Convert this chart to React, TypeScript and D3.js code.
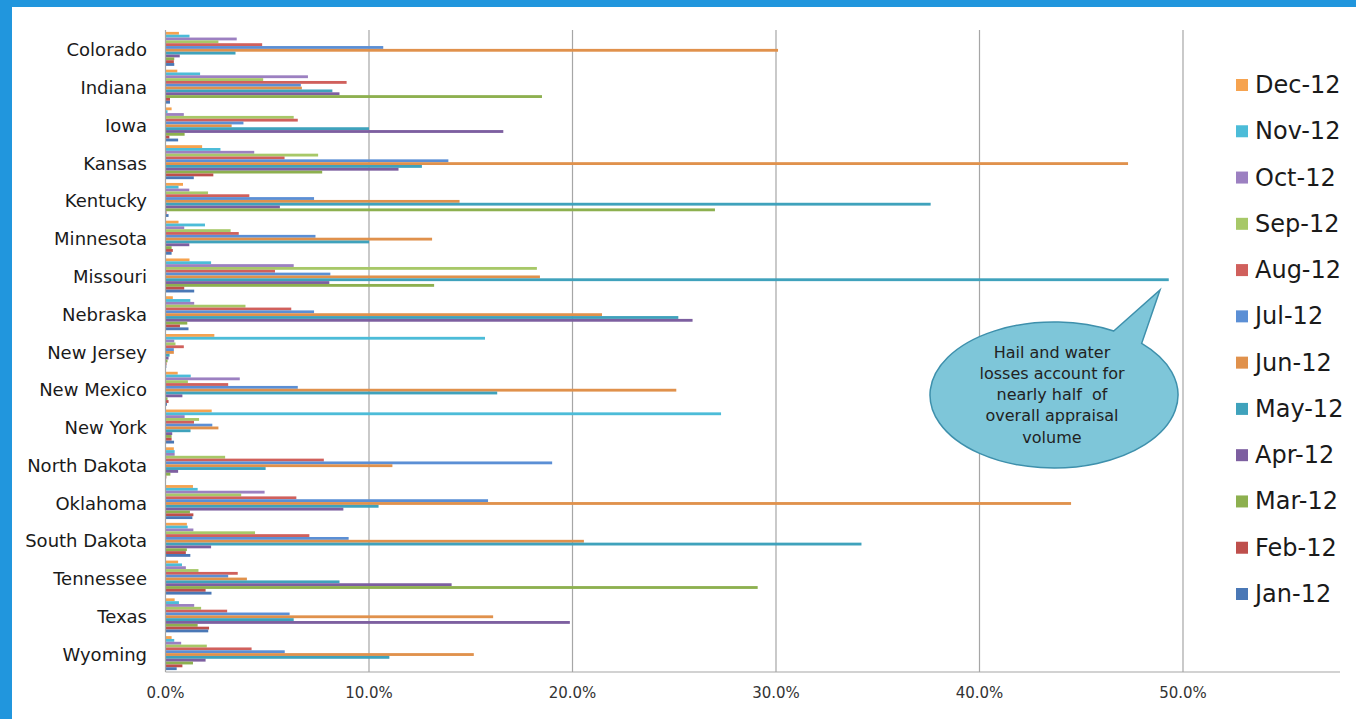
import React from "react";
import * as d3 from "d3";

const states = ["Colorado","Indiana","Iowa","Kansas","Kentucky","Minnesota","Missouri","Nebraska","New Jersey","New Mexico","New York","North Dakota","Oklahoma","South Dakota","Tennessee","Texas","Wyoming"];

const months = ["Dec-12","Nov-12","Oct-12","Sep-12","Aug-12","Jul-12","Jun-12","May-12","Apr-12","Mar-12","Feb-12","Jan-12"];

const dec12 = [0.66, 0.58, 0.3, 1.8, 0.86, 0.64, 1.18, 0.36, 2.4, 0.6, 2.27, 0.41, 1.35, 1.05, 0.62, 0.45, 0.3];
const nov12 = [1.18, 1.7, 0.1, 2.7, 0.64, 1.94, 2.24, 1.22, 15.7, 1.24, 27.3, 0.45, 1.58, 1.09, 0.81, 0.66, 0.43];
const oct12 = [3.5, 7.0, 0.9, 4.36, 1.17, 0.92, 6.3, 1.41, 0.43, 3.65, 0.94, 0.45, 4.87, 1.37, 1.0, 1.41, 0.77];
const sep12 = [2.6, 4.8, 6.3, 7.5, 2.09, 3.2, 18.25, 3.93, 0.49, 1.1, 1.65, 2.93, 3.72, 4.4, 1.62, 1.75, 2.03];
const aug12 = [4.75, 8.9, 6.5, 5.85, 4.12, 3.6, 5.38, 6.18, 0.9, 3.08, 1.4, 7.78, 6.43, 7.07, 3.55, 3.03, 4.23];
const jul12 = [10.7, 6.65, 3.83, 13.9, 7.3, 7.37, 8.1, 7.3, 0.41, 6.5, 2.3, 19.0, 15.85, 9.0, 3.08, 6.1, 5.86];
const jun12 = [30.1, 6.7, 3.25, 47.3, 14.45, 13.1, 18.4, 21.45, 0.41, 25.1, 2.6, 11.15, 44.5, 20.56, 4.0, 16.1, 15.15];
const may12 = [3.44, 8.2, 10.0, 12.6, 37.6, 10.0, 49.3, 25.2, 0.2, 16.3, 1.23, 4.92, 10.47, 34.2, 8.55, 6.3, 11.0];
const apr12 = [0.7, 8.55, 16.6, 11.45, 5.62, 1.17, 8.05, 25.9, 0.15, 0.83, 0.33, 0.62, 8.74, 2.24, 14.06, 19.87, 1.97];
const mar12 = [0.43, 18.5, 0.94, 7.7, 27.0, 0.3, 13.2, 1.07, 0.1, 0.1, 0.3, 0.24, 1.2, 1.05, 29.1, 1.58, 1.35];
const feb12 = [0.41, 0.22, 0.19, 2.35, 0.05, 0.36, 0.92, 0.71, 0.05, 0.15, 0.3, 0.04, 1.37, 1.0, 1.97, 2.14, 0.83];
const jan12 = [0.43, 0.22, 0.62, 1.39, 0.15, 0.3, 1.41, 1.13, 0.04, 0.07, 0.42, 0.02, 1.32, 1.22, 2.26, 2.1, 0.55];

const seriesValues = [dec12, nov12, oct12, sep12, aug12, jul12, jun12, may12, apr12, mar12, feb12, jan12];
const seriesColors = ["#F6A34F","#4CBCD8","#9C80C1","#A7C868","#D0605C","#5B8FD5","#E0914C","#3FA2BC","#7D5FA0","#8DB04F","#BE4F4C","#4A78B6"];

const xTicks = [0, 10, 20, 30, 40, 50];
const calloutLines = ["Hail and water", "losses account for", "nearly half  of", "overall appraisal", "volume"];

const W = 1356, H = 719;
const FONT = "'DejaVu Sans', sans-serif";

export default function App() {
  const x = d3.scaleLinear().domain([0, 50]).range([165.5, 1183]);
  const y = d3.scaleBand<string>().domain(states).range([30, 672]).paddingInner(0.1).paddingOuter(0.05);
  const yInner = d3.scaleBand<string>().domain(months).range([0, y.bandwidth()]);
  const legendY = d3.scalePoint<string>().domain(months).range([85, 594]);
  const fmt = (v: number) => d3.format(".1f")(v) + "%";

  // callout geometry
  const cx = 1054, cy = 395, rx = 124, ry = 73;
  const angA = -Math.PI * 0.34, angB = -Math.PI * 0.25;
  const ax = cx + rx * Math.cos(angA), ay = cy + ry * Math.sin(angA);
  const bx = cx + rx * Math.cos(angB), by = cy + ry * Math.sin(angB);
  const tipX = 1160, tipY = 290;
  const calloutPath = `M${ax},${ay} L${tipX},${tipY} L${bx},${by} A${rx},${ry} 0 1 1 ${ax},${ay} Z`;

  return (
    <svg width={W} height={H} style={{ position: "absolute", left: 0, top: 0, background: "#fff" }} fontFamily={FONT}>
      <rect x={0} y={0} width={W} height={H} fill="#ffffff" />
      {/* gridlines */}
      {xTicks.slice(1).map((t) => (
        <line key={t} x1={x(t)} x2={x(t)} y1={30} y2={672} stroke="#A6A6A6" strokeWidth={1.2} />
      ))}
      {/* bars */}
      {months.map((m, si) => (
        <g key={m} fill={seriesColors[si]}>
          {states.map((s, ci) => (
            <rect key={s} x={x(0)} y={(y(s) as number) + (yInner(m) as number)} width={x(seriesValues[si][ci]) - x(0)} height={yInner.bandwidth()} />
          ))}
        </g>
      ))}
      {/* axes */}
      <line x1={x(0)} x2={x(0)} y1={30} y2={672} stroke="#A6A6A6" strokeWidth={1.2} />
      <line x1={x(0)} x2={1340} y1={672} y2={672} stroke="#A6A6A6" strokeWidth={1.2} />
      {xTicks.map((t) => (
        <text key={t} x={x(t)} y={693} textAnchor="middle" dominantBaseline="central" fontSize={15} fill="#333">{fmt(t)}</text>
      ))}
      {states.map((s) => (
        <text key={s} x={147} y={(y(s) as number) + y.bandwidth() / 2 + 1} textAnchor="end" dominantBaseline="central" fontSize={18} fill="#1a1a1a">{s}</text>
      ))}
      {/* legend */}
      {months.map((m, i) => (
        <g key={m}>
          <rect x={1236} y={(legendY(m) as number) - 6} width={12} height={12} fill={seriesColors[i]} />
          <text x={1255} y={legendY(m) as number} dominantBaseline="central" fontSize={24} fill="#1a1a1a">{m}</text>
        </g>
      ))}
      {/* callout */}
      <path d={calloutPath} fill="#7EC6D9" stroke="#3E90AC" strokeWidth={1.5} />
      {calloutLines.map((l, i) => (
        <text key={i} x={cx - 2} y={352 + i * 21.3} textAnchor="middle" dominantBaseline="central" fontSize={16} fill="#222" style={{ whiteSpace: "pre" }}>{l}</text>
      ))}
      {/* blue frame */}
      <rect x={0} y={0} width={W} height={7} fill="#2196DD" />
      <rect x={0} y={0} width={12} height={H} fill="#2196DD" />
    </svg>
  );
}
